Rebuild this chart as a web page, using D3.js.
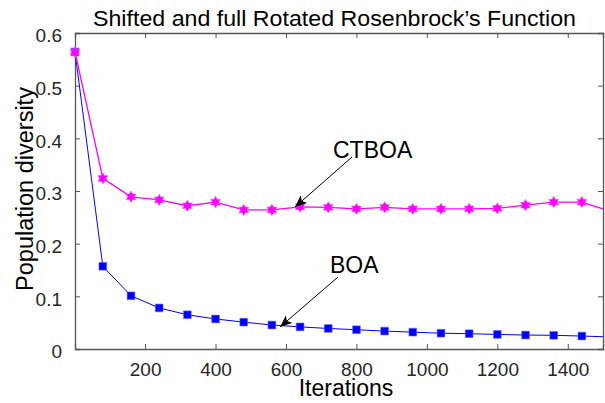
<!DOCTYPE html>
<html>
<head>
<meta charset="utf-8">
<script src="https://cdn.jsdelivr.net/npm/d3@7"></script>
<style>
body{margin:0;background:#fff;}
text{font-family:"Liberation Sans",Arial,sans-serif;}
</style>
</head>
<body>
<svg id="chart" width="605" height="403"></svg>
<script>
// data
let iterations = [1,80,160,240,320,400,480,560,640,720,800,880,960,1040,1120,1200,1280,1360,1440,1500];
let ctboa = [0.564,0.324,0.289,0.283,0.272,0.279,0.264,0.264,0.270,0.269,0.266,0.269,0.266,0.266,0.266,0.267,0.273,0.279,0.279,0.266];
let boa = [0.564,0.157,0.101,0.078,0.065,0.057,0.051,0.0455,0.042,0.039,0.0366,0.034,0.032,0.030,0.029,0.0277,0.0265,0.026,0.0246,0.0233];
let xTicks = [200,400,600,800,1000,1200,1400];
let yTicks = [0,0.1,0.2,0.3,0.4,0.5,0.6];

let svg = d3.select("#chart");
let plotL = 75, plotR = 603, plotT = 33, plotB = 349;

let x = d3.scaleLinear().domain([1,1500]).range([plotL,plotR]);
let y = d3.scaleLinear().domain([0,0.6]).range([plotB,plotT]);

let axisColor = "#555";

// arrowhead
svg.append("defs").append("marker")
    .attr("id","arrow")
    .attr("viewBox","0 0 12 10")
    .attr("refX",12).attr("refY",5)
    .attr("markerWidth",12).attr("markerHeight",10)
    .attr("markerUnits","userSpaceOnUse")
    .attr("orient","auto")
    .append("path")
    .attr("d","M0,0 L12,5 L0,10 L3,5 Z")
    .attr("fill","#000");

// axes (ticks point inward, box on all sides)
let gx = svg.append("g").attr("transform","translate(0,"+plotB+")")
    .call(d3.axisBottom(x).tickValues(xTicks).tickSize(-5).tickPadding(14).tickFormat(d3.format("d")));
let gxTop = svg.append("g").attr("transform","translate(0,"+plotT+")")
    .call(d3.axisTop(x).tickValues(xTicks).tickSize(-5).tickFormat(""));
let gy = svg.append("g").attr("transform","translate("+plotL+",0)")
    .call(d3.axisLeft(y).tickValues(yTicks).tickSize(-5).tickPadding(13).tickFormat(d3.format("~g")));
let gyR = svg.append("g").attr("transform","translate("+plotR+",0)")
    .call(d3.axisRight(y).tickValues(yTicks).tickSize(-5).tickFormat(""));

[gx,gxTop,gy,gyR].forEach(function(g){
    g.select(".domain").attr("stroke",axisColor).attr("stroke-width",1.3);
    g.selectAll(".tick line").attr("stroke",axisColor);
    g.selectAll(".tick text").attr("fill","#262626").style("font-size","19px");
});
gy.selectAll(".tick text").attr("dy","0.46em");

// hexagram marker
let hexagram = {
    draw: function(context, size){
        let r = Math.sqrt(size)/2;
        for(let i=0;i<12;i++){
            let a = Math.PI/6*i - Math.PI/2;
            let rr = (i%2==0) ? r : r*0.58;
            let px = rr*Math.cos(a), py = rr*Math.sin(a);
            if(i==0) context.moveTo(px,py); else context.lineTo(px,py);
        }
        context.closePath();
    }
};

let line = d3.line().x(function(d,i){return x(iterations[i]);}).y(function(d){return y(d);});

svg.append("path").datum(boa).attr("d",line)
    .attr("fill","none").attr("stroke","#0000ff").attr("stroke-width",1);
svg.append("path").datum(ctboa).attr("d",line)
    .attr("fill","none").attr("stroke","#ff00ff").attr("stroke-width",1.3);

let markIdx = d3.range(0,iterations.length-1);

svg.append("g").selectAll("path").data(markIdx).enter().append("path")
    .attr("transform",function(i){return "translate("+x(iterations[i])+","+y(boa[i])+")";})
    .attr("d",d3.symbol().type(d3.symbolSquare).size(60))
    .attr("fill","#0000ff").attr("stroke","#6a6aff").attr("stroke-width",0.6);

svg.append("g").selectAll("path").data(markIdx).enter().append("path")
    .attr("transform",function(i){return "translate("+x(iterations[i])+","+y(ctboa[i])+")";})
    .attr("d",d3.symbol().type(hexagram).size(130))
    .attr("fill","#ff00ff").attr("stroke","#ff6aff").attr("stroke-width",0.6);

// annotations
svg.append("line").attr("x1",352).attr("y1",157).attr("x2",295).attr("y2",207)
    .attr("stroke","#000").attr("stroke-width",1).attr("marker-end","url(#arrow)");
svg.append("text").attr("x",333).attr("y",158).text("CTBOA")
    .style("font-size","23px").attr("fill","#000");

svg.append("line").attr("x1",338).attr("y1",277).attr("x2",280).attr("y2",327)
    .attr("stroke","#000").attr("stroke-width",1).attr("marker-end","url(#arrow)");
svg.append("text").attr("x",330).attr("y",273).text("BOA")
    .style("font-size","23px").attr("fill","#000");

// titles
svg.append("text").attr("x",93).attr("y",26)
    .attr("textLength",483).attr("lengthAdjust","spacingAndGlyphs")
    .text("Shifted and full Rotated Rosenbrock\u2019s Function")
    .style("font-size","22.5px").attr("fill","#000");
svg.append("text").attr("x",346).attr("y",396).attr("text-anchor","middle")
    .text("Iterations").style("font-size","23px").attr("fill","#000");
svg.append("text").attr("transform","translate(33,189) rotate(-90)")
    .attr("text-anchor","middle").text("Population diversity")
    .style("font-size","23.5px").attr("fill","#000");
</script>
</body>
</html>
